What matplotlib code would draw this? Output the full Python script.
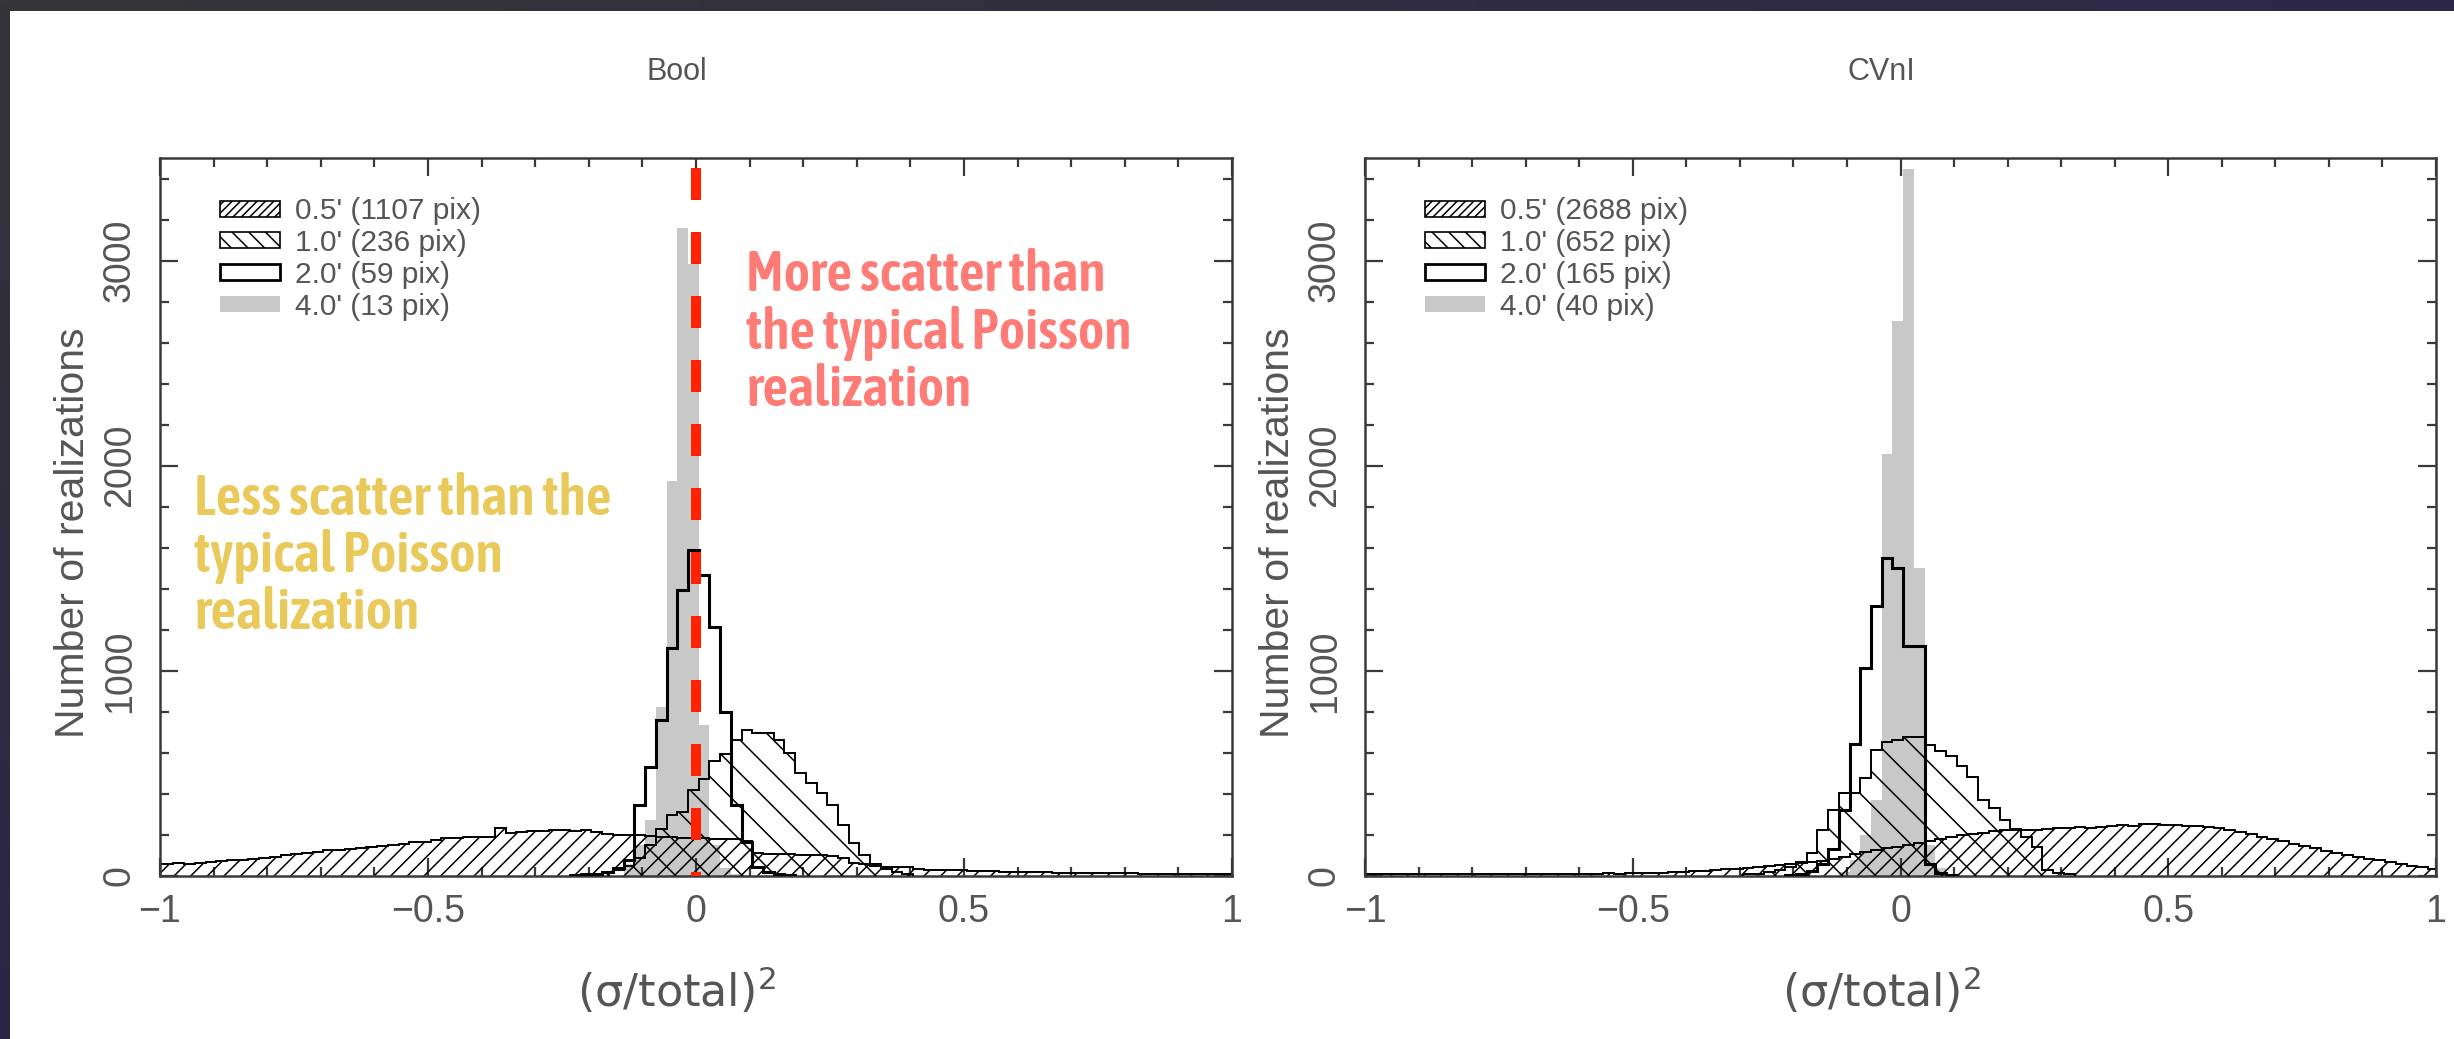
import os
import numpy as np
import matplotlib
matplotlib.use("Agg")
import matplotlib.pyplot as plt
from matplotlib.patches import Patch
from matplotlib import font_manager as fm

plt.rcParams['font.family'] = ['Liberation Sans', 'DejaVu Sans']
plt.rcParams['hatch.linewidth'] = 1.1

BIN_W = 0.02

# ---- Bool: counts per 0.02 bin, each list starts at its own left edge ----
bool_05_lo = -1.015
bool_05 = [58, 60, 62, 60, 64, 66, 75, 78, 80, 82,
           90, 95, 100, 105, 110, 115, 125, 128, 130, 135,
           140, 145, 150, 158, 165, 168, 175, 185, 186, 188,
           190, 190, 232, 212, 215, 218, 220, 224, 222, 218,
           224, 215, 205, 200, 198, 200, 195, 192, 188, 186,
           185, 184, 182, 180, 178, 170, 110, 108, 106, 105,
           104, 102, 100, 98, 90, 62, 60, 50, 45, 45,
           42, 32, 30, 30, 28, 28, 26, 25, 22, 20,
           20, 19, 18, 18, 17, 16, 15, 15, 14, 14,
           13, 13, 12, 12, 11, 11, 10, 10, 9, 9, 8]
bool_10_lo = -0.235
bool_10 = [5, 8, 12, 20, 30, 50, 90, 150, 230, 297, 313, 419, 475, 560, 597,
           663, 712, 696, 696, 663, 598, 501, 452, 403, 346, 249, 159, 100, 60,
           35, 20, 10]
bool_20_lo = -0.215
bool_20 = [5, 10, 20, 40, 80, 346, 533, 760, 1110, 1394, 1589, 1467, 1215,
           801, 346, 167, 45, 20, 8, 3]
bool_40_lo = -0.135
bool_40 = [60, 150, 273, 826, 1926, 3160, 2983, 736, 150, 40, 10]

# ---- CVnI ----
cvn_05_lo = -1.015
cvn_05 = [8, 9, 8, 8, 9, 8, 9, 9, 8, 9,
          9, 10, 9, 10, 10, 9, 10, 11, 10, 11,
          11, 12, 12, 13, 12, 14, 14, 14, 16, 18,
          20, 22, 25, 28, 32, 36, 40, 45, 50, 55,
          58, 62, 68, 75, 85, 95, 105, 115, 125, 135,
          142, 150, 160, 170, 180, 190, 198, 205, 212, 218,
          222, 224, 226, 225, 228, 232, 235, 238, 236, 240,
          245, 250, 246, 252, 255, 248, 250, 245, 242, 238,
          232, 225, 215, 205, 192, 182, 170, 158, 145, 135,
          122, 110, 100, 92, 85, 78, 70, 60, 50, 42, 32]
cvn_10_lo = -0.295
cvn_10 = [8, 12, 18, 28, 45, 70, 110, 224, 322, 404, 404, 477, 615, 655, 665,
          680, 680, 640, 610, 583, 534, 485, 371, 330, 273, 230, 190, 143, 29,
          15, 8]
cvn_20_lo = -0.215
cvn_20 = [5, 10, 25, 60, 130, 322, 645, 1016, 1317, 1550, 1500, 1122, 1122,
          60, 15, 5]
cvn_40_lo = -0.115
cvn_40 = [20, 80, 200, 370, 2058, 2706, 3447, 1500, 150, 40, 10]

legend_bool = ["0.5' (1107 pix)", "1.0' (236 pix)", "2.0' (59 pix)", "4.0' (13 pix)"]
legend_cvn = ["0.5' (2688 pix)", "1.0' (652 pix)", "2.0' (165 pix)", "4.0' (40 pix)"]

TXT = '#555555'
AX = '#3a3a3a'


def pick_font(files):
    by_file = {os.path.basename(f.fname): f.fname for f in fm.fontManager.ttflist}
    for name in files:
        if name in by_file:
            return fm.FontProperties(fname=by_file[name])
    return fm.FontProperties(family='DejaVu Sans', weight='bold', stretch='condensed')


note_props = pick_font(['AsapCondensed-SemiBold.ttf', 'AsapCondensed-Bold.ttf',
                        'AsapCondensed-Medium.ttf'])


def edges(lo, counts):
    return lo + BIN_W * np.arange(len(counts) + 1)


def draw_panel(ax, h05, h10, h20, h40, labels, title):
    ax.stairs(h40[1], edges(*h40), fill=True, color='#c8c8c8', lw=0, zorder=1)
    ax.stairs(h05[1], edges(*h05), fill=True, facecolor='none', edgecolor='black',
              hatch='//', lw=1.4, zorder=2)
    ax.stairs(h10[1], edges(*h10), fill=True, facecolor='none', edgecolor='black',
              hatch='\\', lw=1.4, zorder=3)
    ax.stairs(h20[1], edges(*h20), color='black', lw=2.2, zorder=4)

    ax.set_xlim(-1, 1)
    ax.set_ylim(0, 3500)
    ax.set_xticks([-1, -0.5, 0, 0.5, 1])
    ax.set_xticklabels(['\u22121', '\u22120.5', '0', '0.5', '1'])
    ax.set_xticks(np.arange(-1, 1.001, 0.1), minor=True)
    ax.set_yticks([0, 1000, 2000, 3000])
    ax.set_yticks(np.arange(0, 3501, 200), minor=True)
    ax.tick_params(which='both', direction='in', top=True, right=True,
                   color=AX, width=1.6, labelcolor=TXT, labelsize=27)
    ax.tick_params(which='major', length=13)
    ax.tick_params(which='minor', length=6.5)
    ax.tick_params(axis='x', pad=13)
    ax.tick_params(axis='y', pad=16, labelrotation=90)
    for lab in ax.get_yticklabels():
        lab.set_va('center')
    for sp in ax.spines.values():
        sp.set_color(AX)
        sp.set_linewidth(1.8)

    ax.set_xlabel('(\u03c3/total)$^2$', fontsize=32, color=TXT, family='DejaVu Sans')
    ax.xaxis.set_label_coords(0.482, -0.16)
    ax.xaxis.label.set_va('center')
    ax.set_ylabel('Number of realizations', fontsize=29.5, color=TXT)
    ax.yaxis.set_label_coords(-0.081, 0.478)
    ax.yaxis.label.set_va('center')
    ax.text(0.482, 1.12, title, transform=ax.transAxes, ha='center', va='center',
            fontsize=22, color=TXT)

    handles = [Patch(facecolor='white', edgecolor='black', hatch='////', lw=1.2),
               Patch(facecolor='white', edgecolor='black', hatch='\\\\', lw=1.2),
               Patch(facecolor='white', edgecolor='black', lw=2.0),
               Patch(facecolor='#c8c8c8', edgecolor='none')]
    leg = ax.legend(handles, labels, loc='upper left', bbox_to_anchor=(0.045, 0.962),
                    frameon=False, fontsize=21.5, handlelength=2.0, handleheight=0.45,
                    labelspacing=0.13, handletextpad=0.5, borderaxespad=0)
    for t in leg.get_texts():
        t.set_color(TXT)


fig = plt.figure(figsize=(24.54, 10.39), dpi=100)
fig.patch.set_facecolor('white')

# dark frame strips along the top and left edge
band = fig.add_axes([0, 1 - 11 / 1039, 1, 11 / 1039])
grad = np.linspace(0, 1, 256)[None, :]
band.imshow(grad, aspect='auto', cmap=matplotlib.colors.LinearSegmentedColormap.from_list(
    'frame', ['#363539', '#2c2747']), extent=(0, 1, 0, 1))
band.axis('off')
side = fig.add_axes([0, 0, 10 / 2454, 1])
side.imshow(np.linspace(1, 0, 256)[:, None], aspect='auto', cmap=matplotlib.colors.LinearSegmentedColormap.from_list(
    'frame2', ['#2a2546', '#353438']), extent=(0, 1, 0, 1))
side.axis('off')

ax1 = fig.add_axes([160 / 2454, 1 - 876 / 1039, 1072 / 2454, 718 / 1039])
ax2 = fig.add_axes([1365 / 2454, 1 - 876 / 1039, 1071 / 2454, 718 / 1039])

draw_panel(ax1, (bool_05_lo, bool_05), (bool_10_lo, bool_10), (bool_20_lo, bool_20),
           (bool_40_lo, bool_40), legend_bool, 'Bool')
draw_panel(ax2, (cvn_05_lo, cvn_05), (cvn_10_lo, cvn_10), (cvn_20_lo, cvn_20),
           (cvn_40_lo, cvn_40), legend_cvn, 'CVnI')

# Poisson expectation marker
ax1.plot([0, 0], [3450, 0], color='#ff2200', lw=7.2, dashes=(3.2, 3.2),
         solid_capstyle='butt', dash_capstyle='butt', zorder=6)

ax1.text(0.547, 0.874, 'More scatter than\nthe typical Poisson\nrealization',
         transform=ax1.transAxes, ha='left', va='top', color='#ff7b76',
         fontproperties=note_props, fontsize=40.5, linespacing=1.05, zorder=7)
ax1.text(0.032, 0.563, 'Less scatter than the\ntypical Poisson\nrealization',
         transform=ax1.transAxes, ha='left', va='top', color='#e8c95a',
         fontproperties=note_props, fontsize=40.5, linespacing=1.05, zorder=7)

fig.savefig('out.png', dpi=100)
